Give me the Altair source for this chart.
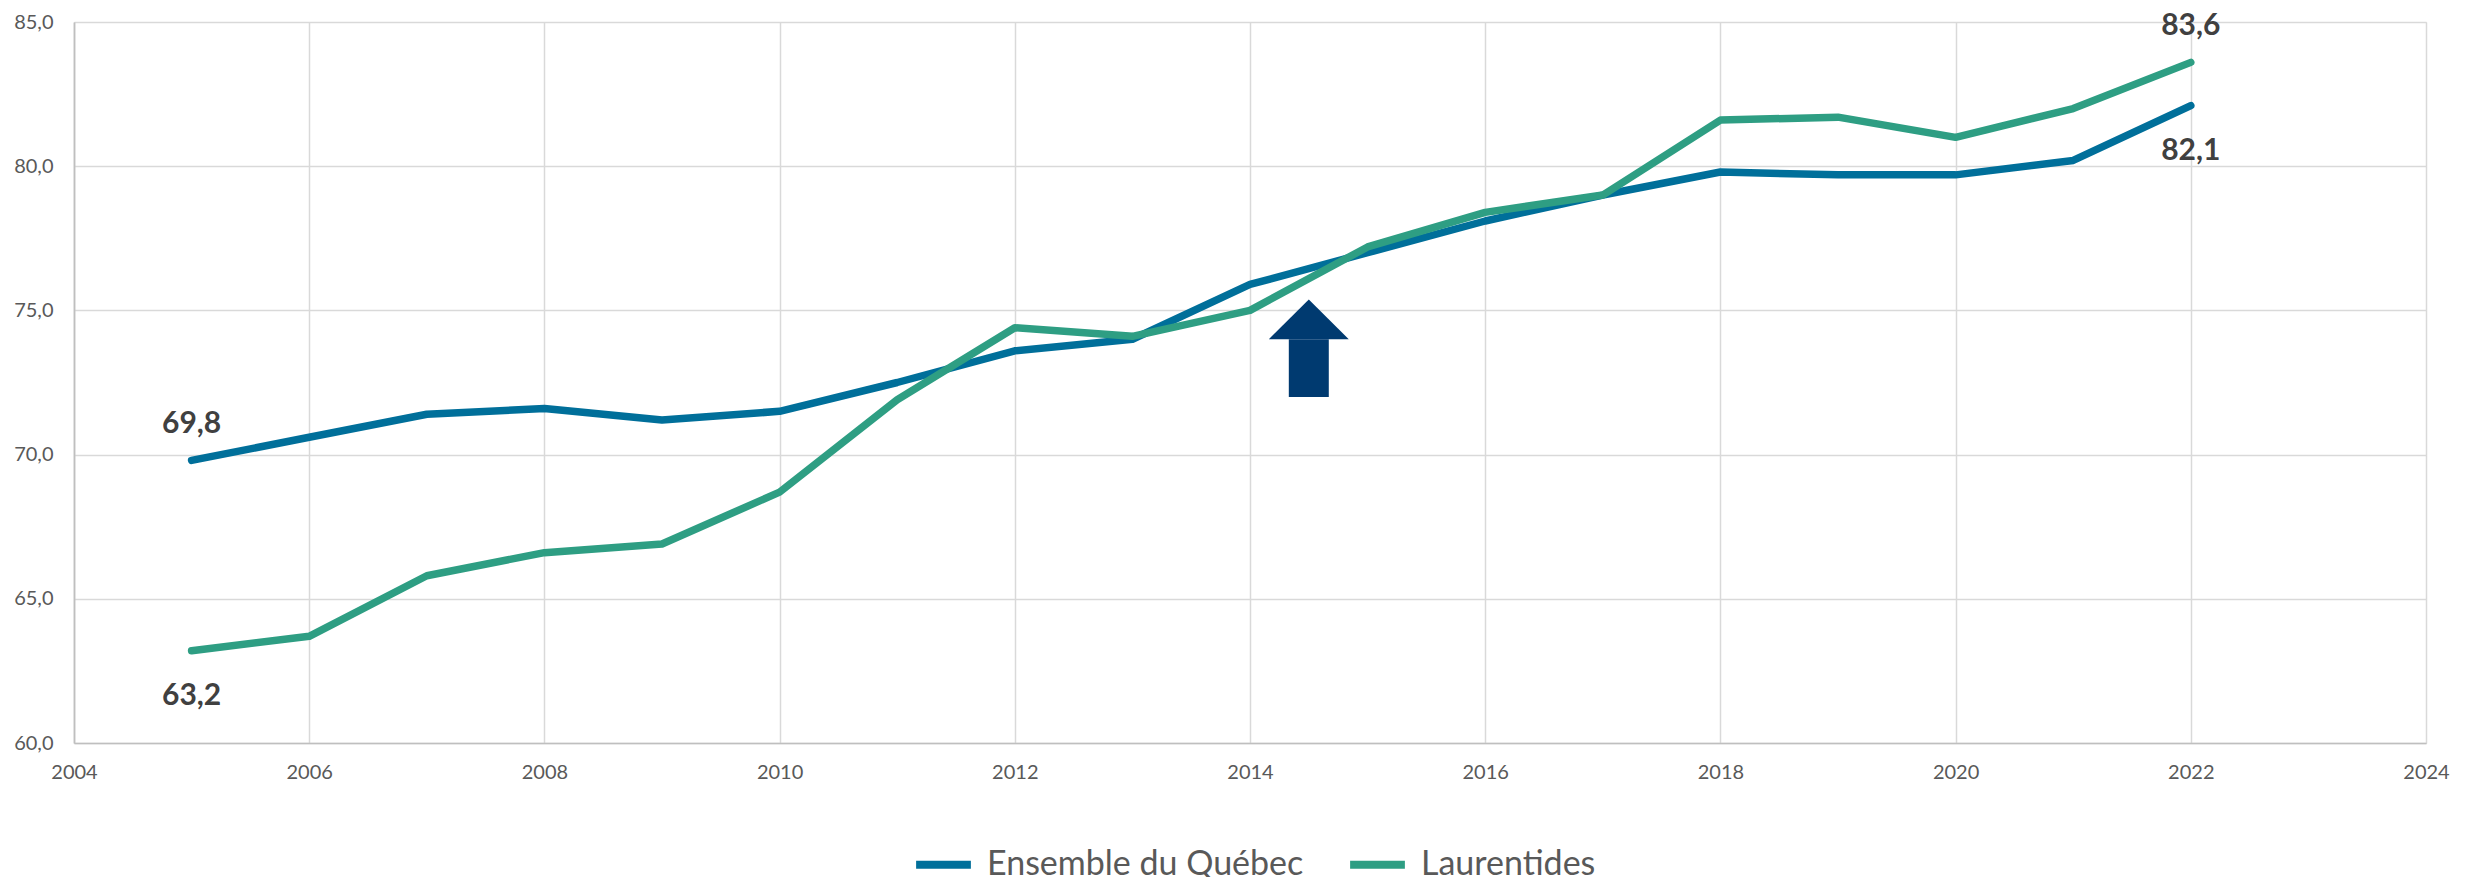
import altair as alt
import pandas as pd

years = list(range(2005, 2023))
quebec = [69.8, 70.6, 71.4, 71.6, 71.2, 71.5, 72.5, 73.6, 74.0, 75.9, 77.0, 78.1, 79.0, 79.8, 79.7, 79.7, 80.2, 82.1]
laurentides = [63.2, 63.7, 65.8, 66.6, 66.9, 68.7, 71.9, 74.4, 74.1, 75.0, 77.2, 78.4, 79.0, 81.6, 81.7, 81.0, 82.0, 83.6]
series_names = ["Ensemble du Québec", "Laurentides"]
series_colors = ["#006F9A", "#2E9E83"]

x_ticks = list(range(2004, 2025, 2))
y_ticks = [60, 65, 70, 75, 80, 85]

# annotation arrow (data units)
arrow_head_x = [2014.16, 2014.5, 2014.84]
arrow_head_y = [74.0, 75.38, 74.0]
arrow_shaft_x = [2014.33, 2014.67]
arrow_shaft_y = [72.0, 74.0]

df = pd.DataFrame({
    "year": years * 2,
    "value": quebec + laurentides,
    "series": [series_names[0]] * len(years) + [series_names[1]] * len(years),
})

FONT = "Lato"
x_scale = alt.Scale(domain=[2004, 2024], nice=False, zero=False)
y_scale = alt.Scale(domain=[60, 85], nice=False, zero=False)
color_scale = alt.Scale(domain=series_names, range=series_colors)

x_axis = alt.Axis(values=x_ticks, format="d", title=None, labelPadding=19, labelFlush=False)
y_axis = alt.Axis(values=y_ticks, title=None, labelPadding=21, labelFlush=False,
                  labelExpr="replace(format(datum.value, '.1f'), '.', ',')")

legend = alt.Legend(
    title=None, orient="none", direction="horizontal", legendX=838, legendY=811,
    labelFontSize=34, labelFont=FONT, labelColor="#595959", labelLimit=0,
    symbolType="stroke", symbolStrokeWidth=8, symbolSize=3000,
    labelOffset=12, columnPadding=30)

base = alt.Chart(df)
X = alt.X("year:Q", scale=x_scale, axis=x_axis)
Y = alt.Y("value:Q", scale=y_scale, axis=y_axis)
C = alt.Color("series:N", scale=color_scale, legend=legend)

line_q = base.transform_filter(alt.datum.series == series_names[0]).mark_line(
    strokeWidth=7.5, strokeCap="round", strokeJoin="round").encode(x=X, y=Y, color=C)
line_l = base.transform_filter(alt.datum.series == series_names[1]).mark_line(
    strokeWidth=7.5, strokeCap="round", strokeJoin="round").encode(x=X, y=Y, color=C)

label_calc = "replace(format(datum.value, '.1f'), '.', ',')"
above_filter = ((alt.datum.series == series_names[0]) & (alt.datum.year == 2005)) | \
               ((alt.datum.series == series_names[1]) & (alt.datum.year == 2022))
below_filter = ((alt.datum.series == series_names[1]) & (alt.datum.year == 2005)) | \
               ((alt.datum.series == series_names[0]) & (alt.datum.year == 2022))

text_above = base.transform_filter(above_filter).transform_calculate(lbl=label_calc).mark_text(
    font=FONT, fontSize=30, fontWeight="bold", color="#404040", dy=-36).encode(
    x=X, y=Y, text="lbl:N")
text_below = base.transform_filter(below_filter).transform_calculate(lbl=label_calc).mark_text(
    font=FONT, fontSize=30, fontWeight="bold", color="#404040", dy=45).encode(
    x=X, y=Y, text="lbl:N")

head_df = pd.DataFrame({"x": arrow_head_x, "y": arrow_head_y, "y2": [arrow_head_y[0]] * 3})
shaft_df = pd.DataFrame({"x": [arrow_shaft_x[0]], "x2": [arrow_shaft_x[1]],
                         "y": [arrow_shaft_y[0]], "y2": [arrow_shaft_y[1]]})
arrow_head = alt.Chart(head_df).mark_area(color="#003A70").encode(
    x=alt.X("x:Q", scale=x_scale, axis=x_axis),
    y=alt.Y("y:Q", scale=y_scale, axis=y_axis), y2="y2:Q")
arrow_shaft = alt.Chart(shaft_df).mark_rect(color="#003A70").encode(
    x=alt.X("x:Q", scale=x_scale, axis=x_axis), x2="x2:Q",
    y=alt.Y("y:Q", scale=y_scale, axis=y_axis), y2="y2:Q")

chart = alt.layer(line_q, line_l, arrow_shaft, arrow_head, text_above, text_below).properties(
    width=2352, height=721,
    autosize=alt.AutoSizeParams(type="none"),
    padding={"left": 66, "top": 14, "right": 27, "bottom": 134},
).configure_view(stroke=None).configure(background="white").configure_axis(
    labelFontSize=20, labelFont=FONT, labelColor="#595959", ticks=False,
    domainColor="#BFBFBF", domainWidth=1.7, gridColor="#D9D9D9", gridWidth=1.5,
)

chart.save("out.html", embed_options={"renderer": "svg", "actions": False})
